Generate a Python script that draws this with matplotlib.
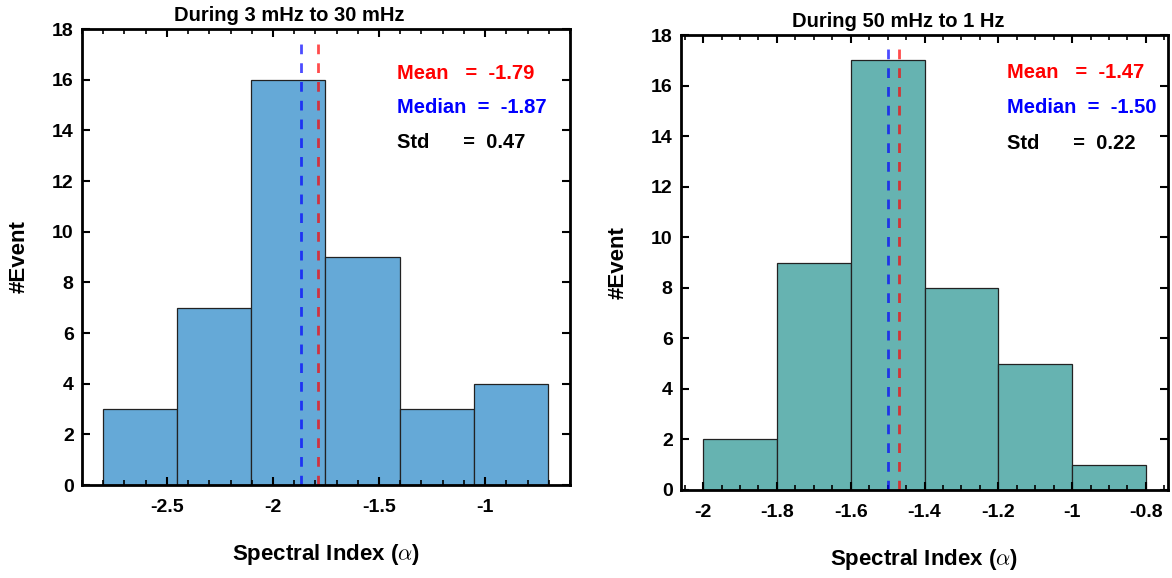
import numpy as np
import matplotlib
matplotlib.use("Agg")
import matplotlib.pyplot as plt
from matplotlib.ticker import MultipleLocator

plt.rcParams['font.family'] = ['Liberation Sans', 'DejaVu Sans']
plt.rcParams['font.weight'] = 'bold'
plt.rcParams['mathtext.fontset'] = 'cm'
plt.rcParams['lines.scale_dashes'] = False

# Left panel data
titles = ["During 3 mHz to 30 mHz", "During 50 mHz to 1 Hz"]
left_edges = np.linspace(-2.80, -0.705, 7)
left_counts = [3, 7, 16, 9, 3, 4]
left_mean, left_median, left_std = -1.79, -1.87, 0.47

# Right panel data
right_edges = [-2.0, -1.8, -1.6, -1.4, -1.2, -1.0, -0.8]
right_counts = [2, 9, 17, 8, 5, 1]
right_mean, right_median, right_std = -1.47, -1.50, 0.22

fig = plt.figure(figsize=(11.72, 5.78), dpi=100)
W, H = 1172, 578
ax1 = fig.add_axes([82 / W, 1 - 485 / H, (570 - 82) / W, (485 - 29) / H])
ax2 = fig.add_axes([681 / W, 1 - 490 / H, (1168 - 681) / W, (490 - 35) / H])

panels = [
    (ax1, left_edges, left_counts, left_mean, left_median, left_std, '#65A9D7',
     (-2.9, -0.6), [-2.5, -2, -1.5, -1], 0.1, titles[0], 0.424, 0.6455, [0.9035, 0.8268, 0.750]),
    (ax2, right_edges, right_counts, right_mean, right_median, right_std, '#66B3B1',
     (-2.06, -0.74), [-2, -1.8, -1.6, -1.4, -1.2, -1, -0.8], 0.05, titles[1], 0.446, 0.669, [0.9165, 0.8396, 0.7626]),
]

for (ax, edges, counts, mean, median, std, color, xlim, xt, minor, title, tx, lx, ly) in panels:
    edges = np.asarray(edges)
    ax.bar(edges[:-1], counts, width=np.diff(edges), align='edge', color=color,
           edgecolor='#222222', linewidth=0.9)
    ax.plot([median, median], [0, 17.6], color='blue', alpha=0.7, lw=2, dashes=(7, 6.5))
    ax.plot([mean, mean], [0, 17.6], color='red', alpha=0.7, lw=2, dashes=(7, 6.5))
    ax.set_xlim(*xlim)
    ax.set_ylim(0, 18)
    ax.set_xticks(xt)
    ax.set_xticklabels([('%g' % v) for v in xt])
    ax.xaxis.set_minor_locator(MultipleLocator(minor))
    ax.set_yticks(range(0, 19, 2))
    ax.tick_params(axis='both', which='both', direction='in', top=True, right=True)
    ax.tick_params(axis='both', which='major', length=6, width=1.5, labelsize=14)
    ax.tick_params(axis='x', which='major', pad=10)
    ax.tick_params(axis='y', which='major', pad=6)
    ax.tick_params(axis='x', which='minor', length=3.5, width=1.2)
    for lab in ax.get_xticklabels() + ax.get_yticklabels():
        lab.set_fontweight('bold')
    for s in ax.spines.values():
        s.set_linewidth(2)
    ax.set_xlabel(r'Spectral Index ($\alpha$)', fontsize=16, fontweight='bold', labelpad=19)
    ax.set_ylabel('#Event', fontsize=16, fontweight='bold', labelpad=16)
    ax.text(tx, 1.008, title, transform=ax.transAxes, ha='center', va='bottom',
            fontsize=14.5, fontweight='bold')
    ax.text(lx, ly[0], 'Mean   =  %.2f' % mean, transform=ax.transAxes, color='red',
            fontsize=14.5, fontweight='bold', va='center')
    ax.text(lx, ly[1], 'Median  =  %.2f' % median, transform=ax.transAxes, color='blue',
            fontsize=14.5, fontweight='bold', va='center')
    ax.text(lx, ly[2], 'Std      =  %.2f' % std, transform=ax.transAxes, color='black',
            fontsize=14.5, fontweight='bold', va='center')

fig.savefig('out.png', dpi=100)
